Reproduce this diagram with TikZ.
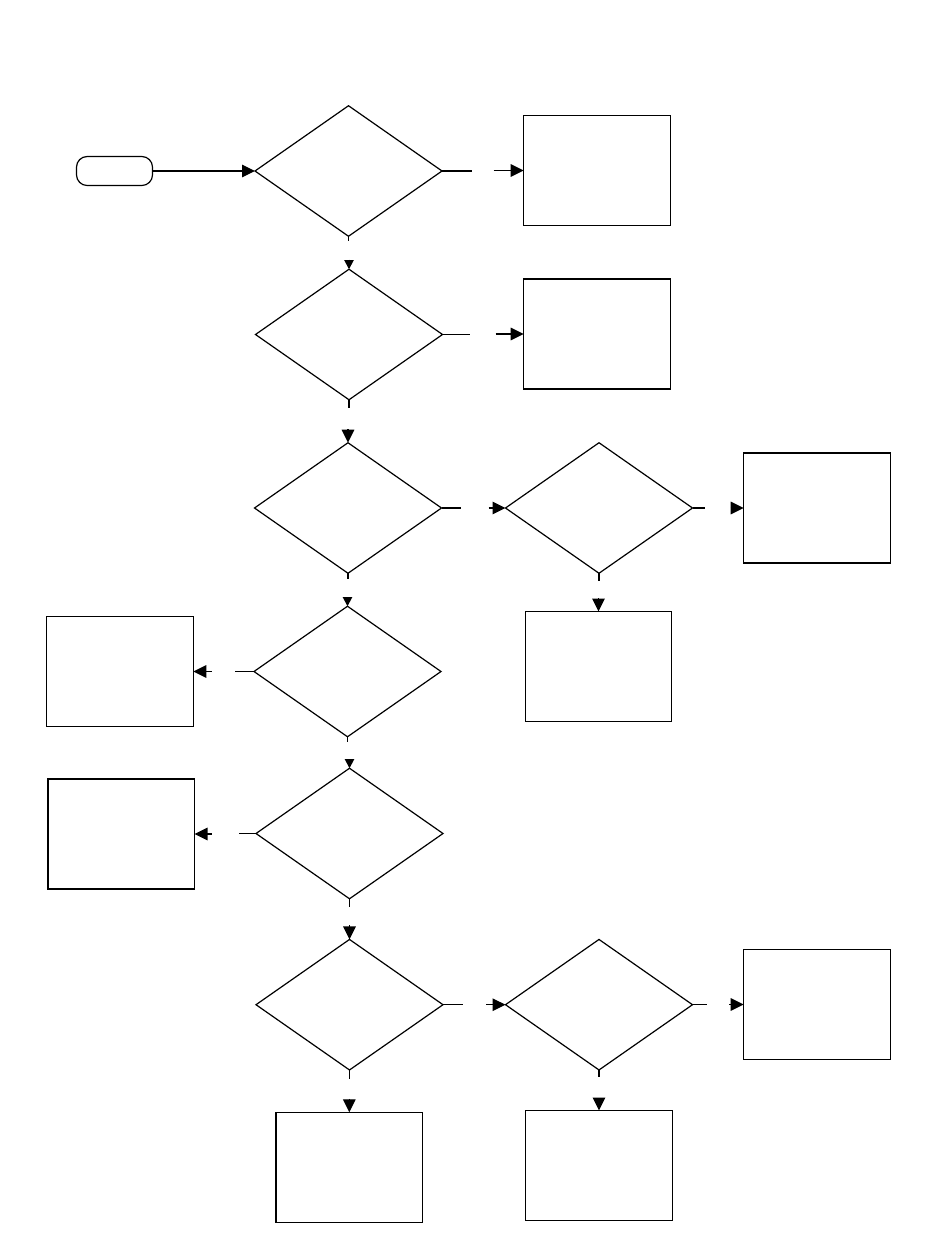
\documentclass[tikz,border=0pt]{standalone}
\usetikzlibrary{shapes.geometric,arrows.meta,calc}
\begin{document}
\begin{tikzpicture}[x=0.75pt,y=-0.75pt,line width=0.9pt,
  dia/.style={draw,diamond,minimum width=140.25pt,minimum height=97.9pt,inner sep=0pt,outer sep=0pt},
  box/.style={draw,rectangle,minimum width=109.9pt,minimum height=82.5pt,inner sep=0pt,outer sep=0pt},
  term/.style={draw,rectangle,rounded corners=8pt,minimum width=57pt,minimum height=21.75pt,inner sep=0pt,outer sep=0pt},
  bigarr/.style={-{Triangle[length=9.75pt,width=9.4pt]}},
  smallarr/.style={-{Triangle[length=6.75pt,width=6.9pt]}}]
\useasboundingbox (0,0) rectangle (950,1260);
% nodes
\node[term] (st) at (114.5,171) {};
\node[dia] (d1) at (348.5,171) {};
\node[box] (b1) at (597,170.5) {};
\node[dia] (d2) at (349,334.5) {};
\node[box] (b2) at (597,334) {};
\node[dia] (d3) at (348,508) {};
\node[dia] (d3b) at (599,508) {};
\node[box] (b3c) at (817,508) {};
\node[box] (b3d) at (598.5,666.5) {};
\node[dia] (d4) at (347.5,671.5) {};
\node[box] (b4) at (120,671.5) {};
\node[dia] (d5) at (349.5,833.5) {};
\node[box] (b5) at (121.25,834) {};
\node[dia] (d6) at (349.5,1004.7) {};
\node[dia] (d6b) at (599,1004.7) {};
\node[box] (b6c) at (817,1004.5) {};
\node[box] (b6d) at (349.3,1167.3) {};
\node[box] (b6e) at (599,1165.5) {};
% start -> d1
\draw[bigarr] (st.east) -- (d1.west);
% d1 -> b1
\draw (d1.east) -- ++(30,0);
\draw[bigarr] ($(b1.west)+(-30,0)$) -- (b1.west);
% d1 -> d2
\draw (d1.south) -- ++(0,5);
\draw[smallarr] ($(d2.north)+(0,-9.5)$) -- (d2.north);
% d2 -> b2
\draw (d2.east) -- ++(27,0);
\draw[bigarr] ($(b2.west)+(-28,0)$) -- (b2.west);
% d2 -> d3
\draw (d2.south) -- ++(0,8);
\draw[bigarr] ($(d3.north)+(0,-13.5)$) -- (d3.north);
% d3 -> d3b
\draw (d3.east) -- ++(19,0);
\draw[bigarr] ($(d3b.west)+(-17,0)$) -- (d3b.west);
% d3b -> b3c
\draw (d3b.east) -- ++(12,0);
\draw[bigarr] ($(b3c.west)+(-13,0)$) -- (b3c.west);
% d3b -> b3d
\draw (d3b.south) -- ++(0,7.5);
\draw[bigarr] ($(b3d.north)+(0,-13.5)$) -- (b3d.north);
% d3 -> d4
\draw (d3.south) -- ++(0,6);
\draw[smallarr] ($(d4.north)+(0,-9)$) -- (d4.north);
% d4 -> b4
\draw (d4.west) -- ++(-19,0);
\draw[bigarr] ($(b4.east)+(18.5,0)$) -- (b4.east);
% d4 -> d5
\draw (d4.south) -- ++(0,5);
\draw[smallarr] ($(d5.north)+(0,-9)$) -- (d5.north);
% d5 -> b5
\draw (d5.west) -- ++(-17,0);
\draw[bigarr] ($(b5.east)+(17,0)$) -- (b5.east);
% d5 -> d6
\draw (d5.south) -- ++(0,8);
\draw[bigarr] ($(d6.north)+(0,-14)$) -- (d6.north);
% d6 -> d6b
\draw (d6.east) -- ++(20,0);
\draw[bigarr] ($(d6b.west)+(-19.5,0)$) -- (d6b.west);
% d6b -> b6c
\draw (d6b.east) -- ++(14,0);
\draw[bigarr] ($(b6c.west)+(-14.5,0)$) -- (b6c.west);
% d6 -> b6d
\draw (d6.south) -- ++(0,9);
\draw[bigarr] ($(b6d.north)+(0,-13.5)$) -- (b6d.north);
% d6b -> b6e
\draw (d6b.south) -- ++(0,7.5);
\draw[bigarr] ($(b6e.north)+(0,-12.5)$) -- (b6e.north);
\end{tikzpicture}
\end{document}
